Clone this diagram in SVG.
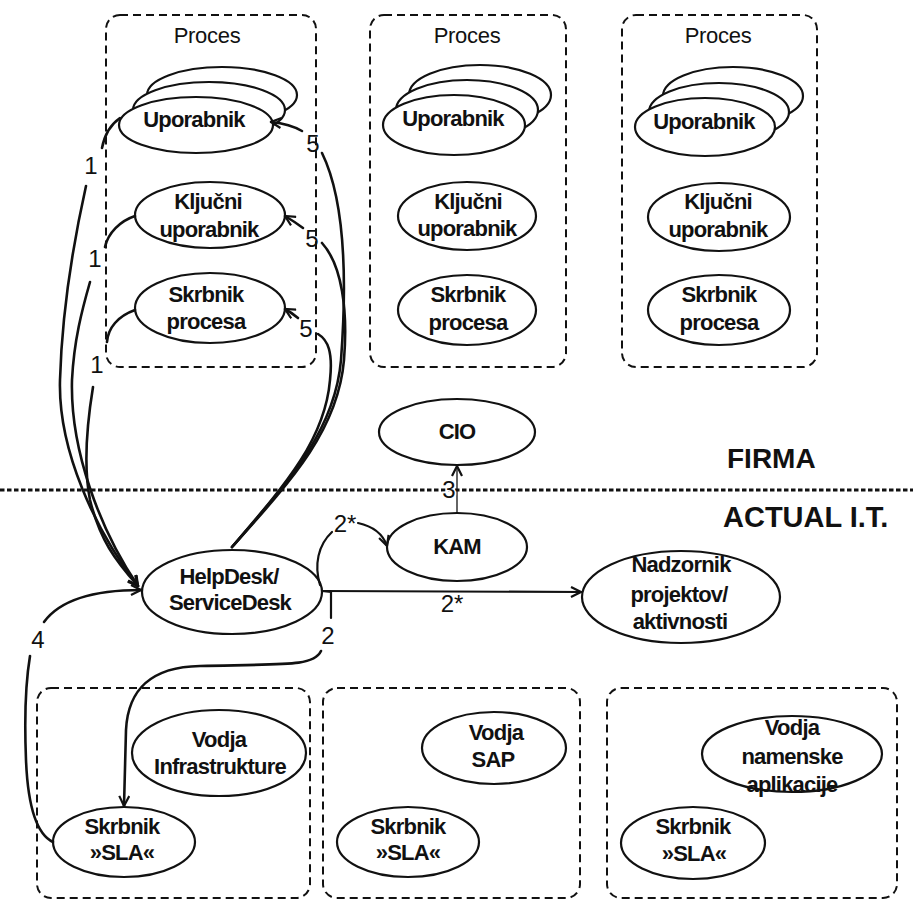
<svg xmlns="http://www.w3.org/2000/svg" width="913" height="901" viewBox="0 0 913 901">
<defs>
<style>
.box{fill:none;stroke:#111;stroke-width:2;stroke-dasharray:8 5}
.el{fill:#fff;stroke:#111;stroke-width:2.2}
.nt{font-family:"Liberation Sans",Arial,sans-serif;font-weight:bold;font-size:22px;letter-spacing:-0.8px;text-anchor:middle;fill:#111}
.pt{font-family:"Liberation Sans",Arial,sans-serif;font-size:22px;letter-spacing:-0.3px;text-anchor:middle;fill:#111}
.lb{font-family:"Liberation Sans",Arial,sans-serif;font-size:24px;text-anchor:middle;fill:#111}
.zone{font-family:"Liberation Sans",Arial,sans-serif;font-weight:bold;font-size:28px;fill:#111}
.c{fill:none;stroke:#111;stroke-width:2.6;stroke-linecap:round}
.thin{fill:none;stroke:#111;stroke-width:1.3}
</style>
<marker id="ah" viewBox="0 0 12 12" refX="11" refY="6" markerWidth="12" markerHeight="12" markerUnits="userSpaceOnUse" orient="auto">
<path d="M1,1 L11,6 L1,11" fill="none" stroke="#111" stroke-width="2.2"/>
</marker>
</defs>
<rect width="913" height="901" fill="#fff"/>

<!-- divider -->
<line x1="0" y1="490" x2="913" y2="490" stroke="#111" stroke-width="3" stroke-dasharray="4.5 2.5"/>
<text class="zone" x="727" y="468">FIRMA</text>
<text class="zone" x="723" y="527" style="font-size:29px">ACTUAL I.T.</text>

<!-- process boxes -->
<g id="proces1">
<rect class="box" x="106" y="15" width="210" height="352" rx="14"/>
<text class="pt" x="207" y="43">Proces</text>
</g>
<g id="proces2">
<rect class="box" x="370" y="15" width="196" height="352" rx="14"/>
<text class="pt" x="467" y="43">Proces</text>
</g>
<g id="proces3">
<rect class="box" x="622" y="15" width="195" height="352" rx="14"/>
<text class="pt" x="718" y="43">Proces</text>
</g>

<!-- Box 1 nodes -->
<g id="uporabnik1">
<ellipse class="el" cx="222" cy="95" rx="75" ry="28"/>
<ellipse class="el" cx="209" cy="110" rx="76" ry="28"/>
<ellipse class="el" cx="196" cy="125" rx="77" ry="28"/>
<text class="nt" x="194" y="127">Uporabnik</text>
</g>
<g id="kljucni1">
<ellipse class="el" cx="210" cy="215" rx="75" ry="33"/>
<text class="nt" x="208" y="209">Ključni</text>
<text class="nt" x="209" y="237">uporabnik</text>
</g>
<g id="skrbnik1">
<ellipse class="el" cx="210" cy="308" rx="75" ry="35"/>
<text class="nt" x="206" y="302">Skrbnik</text>
<text class="nt" x="206" y="329">procesa</text>
</g>

<!-- Box 2 nodes -->
<g id="uporabnik2">
<ellipse class="el" cx="480" cy="95" rx="71" ry="30"/>
<ellipse class="el" cx="467" cy="110" rx="71" ry="30"/>
<ellipse class="el" cx="454" cy="125" rx="71" ry="30"/>
<text class="nt" x="453" y="126">Uporabnik</text>
</g>
<g id="kljucni2">
<ellipse class="el" cx="467" cy="216" rx="69" ry="34"/>
<text class="nt" x="468" y="209">Ključni</text>
<text class="nt" x="467" y="236">uporabnik</text>
</g>
<g id="skrbnik2">
<ellipse class="el" cx="467" cy="310" rx="69" ry="35"/>
<text class="nt" x="468" y="302">Skrbnik</text>
<text class="nt" x="468" y="330">procesa</text>
</g>

<!-- Box 3 nodes -->
<g id="uporabnik3">
<ellipse class="el" cx="733" cy="96" rx="70" ry="29"/>
<ellipse class="el" cx="719" cy="112" rx="70" ry="29"/>
<ellipse class="el" cx="705" cy="127" rx="70" ry="29"/>
<text class="nt" x="704" y="129">Uporabnik</text>
</g>
<g id="kljucni3">
<ellipse class="el" cx="719" cy="217" rx="71" ry="34"/>
<text class="nt" x="718" y="209">Ključni</text>
<text class="nt" x="718" y="237">uporabnik</text>
</g>
<g id="skrbnik3">
<ellipse class="el" cx="719" cy="310" rx="71" ry="35"/>
<text class="nt" x="719" y="302">Skrbnik</text>
<text class="nt" x="719" y="330">procesa</text>
</g>

<!-- IT nodes -->
<g id="cio">
<ellipse class="el" cx="457" cy="432" rx="78" ry="33"/>
<text class="nt" x="457" y="439">CIO</text>
</g>
<g id="kam">
<ellipse class="el" cx="457" cy="547" rx="70" ry="34"/>
<text class="nt" x="457" y="554">KAM</text>
</g>
<g id="helpdesk">
<ellipse class="el" cx="232" cy="592" rx="90" ry="42"/>
<text class="nt" x="229" y="584">HelpDesk/</text>
<text class="nt" x="230" y="610">ServiceDesk</text>
</g>
<g id="nadzornik">
<ellipse class="el" cx="681" cy="597" rx="99" ry="46"/>
<text class="nt" x="681" y="572">Nadzornik</text>
<text class="nt" x="679" y="602">projektov/</text>
<text class="nt" x="680" y="629">aktivnosti</text>
</g>

<!-- bottom boxes -->
<g id="infra">
<rect class="box" x="37" y="688" width="273" height="210" rx="14"/>
</g>
<g id="sap">
<rect class="box" x="323" y="688" width="257" height="210" rx="14"/>
</g>
<g id="namenske">
<rect class="box" x="607" y="688" width="290" height="210" rx="14"/>
</g>
<g id="vodjaInfra">
<ellipse class="el" cx="219" cy="753" rx="87" ry="43"/>
<text class="nt" x="219" y="747">Vodja</text>
<text class="nt" x="220" y="774">Infrastrukture</text>
</g>
<g id="slaA">
<ellipse class="el" cx="124" cy="842" rx="71" ry="35"/>
<text class="nt" x="122" y="834">Skrbnik</text>
<text class="nt" x="122" y="860">»SLA«</text>
</g>
<g id="vodjaSap">
<ellipse class="el" cx="494" cy="748" rx="72" ry="36"/>
<text class="nt" x="496" y="740">Vodja</text>
<text class="nt" x="493" y="767">SAP</text>
</g>
<g id="slaB">
<ellipse class="el" cx="408" cy="842" rx="71" ry="35"/>
<text class="nt" x="408" y="834">Skrbnik</text>
<text class="nt" x="408" y="860">»SLA«</text>
</g>
<g id="vodjaNam">
<ellipse class="el" cx="792" cy="754" rx="90" ry="38"/>
<text class="nt" x="792" y="735">Vodja</text>
<text class="nt" x="792" y="764">namenske</text>
<text class="nt" x="792" y="792">aplikacije</text>
</g>
<g id="slaC">
<ellipse class="el" cx="693" cy="843" rx="72" ry="36"/>
<text class="nt" x="693" y="834">Skrbnik</text>
<text class="nt" x="694" y="861">»SLA«</text>
</g>

<!-- connectors -->
<g id="connectors">
<!-- 1 : process nodes -> HelpDesk -->
<path class="c" d="M120 118 C110 125 104 137 102 148"/>
<path class="c" d="M86 186 C74 240 62 310 60 380 C58 450 95 530 138 586" marker-end="url(#ah)"/>
<path class="c" d="M135 216 C120 221 108 233 105 247"/>
<path class="c" d="M90 282 C82 310 74 340 72 380 C70 450 100 530 138 586" marker-end="url(#ah)"/>
<path class="c" d="M135 310 C118 316 108 328 107 342"/>
<path class="c" d="M93 387 C86 430 84 470 90 500 C100 540 115 560 138 586" marker-end="url(#ah)"/>
<text class="lb" x="91" y="174">1</text>
<text class="lb" x="95" y="267">1</text>
<text class="lb" x="97" y="373">1</text>

<!-- 5 : HelpDesk -> process nodes -->
<path class="c" d="M232 547 C290 480 335 430 341 360 C347 280 345 200 322 153"/>
<path class="c" d="M302 131 Q290 124 271 122" marker-end="url(#ah)"/>
<path class="c" d="M232 547 C292 480 338 430 344 360 C348 310 342 265 322 243"/>
<path class="c" d="M303 228 Q295 222 285 216" marker-end="url(#ah)"/>
<path class="c" d="M232 547 C285 485 325 440 330 380 C333 352 328 340 318 334"/>
<path class="c" d="M298 318 Q292 313 285 309" marker-end="url(#ah)"/>
<text class="lb" x="313" y="152">5</text>
<text class="lb" x="312" y="247">5</text>
<text class="lb" x="306" y="337">5</text>

<!-- 3 : KAM -> CIO -->
<path class="thin" d="M457 513 L457 466" marker-end="url(#ah)"/>
<text class="lb" x="449" y="498" style="paint-order:stroke;stroke:#fff;stroke-width:3px">3</text>

<!-- 2* : HelpDesk -> KAM -->
<path class="c" style="stroke-width:2.2" d="M320 585 C314 565 318 545 332 532"/>
<path class="c" style="stroke-width:2.2" d="M358 523 Q381 528 387 546" marker-end="url(#ah)"/>
<text class="lb" x="345" y="532">2*</text>

<!-- 2* : HelpDesk -> Nadzornik -->
<path class="c" style="stroke-width:2.2" d="M322 591 L581 592" marker-end="url(#ah)"/>
<text class="lb" x="452" y="612">2*</text>

<!-- 2 : HelpDesk -> Skrbnik SLA -->
<path class="c" style="stroke-width:2.2" d="M322 591 L331 592 L331 618"/>
<path class="c" d="M321 651 C314 666 290 664 200 666 C150 667 128 690 126 730 L124 806" marker-end="url(#ah)"/>
<text class="lb" x="328" y="644">2</text>

<!-- 4 : Skrbnik SLA -> HelpDesk -->
<path class="c" d="M53 842 C38 835 28 810 26 760 C24 710 26 680 30 656"/>
<path class="c" d="M44 622 C60 600 95 590 141 590" marker-end="url(#ah)"/>
<text class="lb" x="38" y="648">4</text>
</g>
</svg>
